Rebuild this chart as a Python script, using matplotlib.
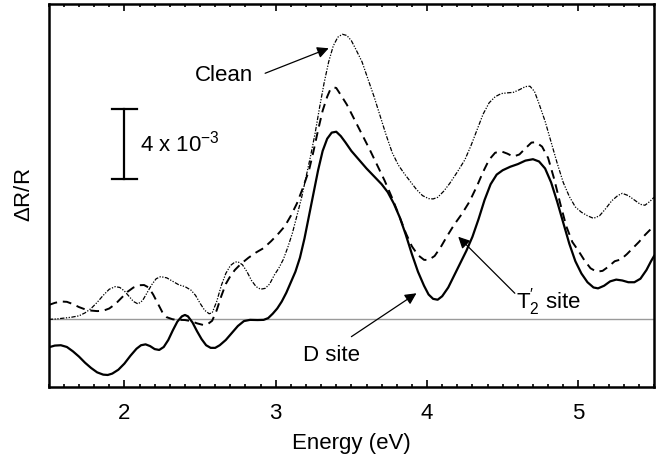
import numpy as np
import matplotlib
matplotlib.use('Agg')
import matplotlib.pyplot as plt
from matplotlib.ticker import MultipleLocator, NullLocator

plt.rcParams['font.family'] = ['Liberation Sans', 'DejaVu Sans']
plt.rcParams['mathtext.fontset'] = 'custom'
plt.rcParams['mathtext.rm'] = 'Liberation Sans'
plt.rcParams['mathtext.it'] = 'Liberation Sans:italic'

# Delta R / R in units of 1e-3, energy in eV
d_site_e = [1.50, 1.54, 1.58, 1.62, 1.66, 1.70, 1.74, 1.78, 1.82, 1.86, 1.89, 1.92,
            1.96, 2.00, 2.04, 2.08, 2.11, 2.14, 2.17, 2.20, 2.23, 2.26, 2.29, 2.32,
            2.35, 2.38, 2.40, 2.42, 2.45, 2.48, 2.51, 2.54, 2.57, 2.60, 2.63, 2.67,
            2.71, 2.75, 2.79, 2.83, 2.88, 2.92, 2.95, 2.98, 3.01, 3.04, 3.07, 3.10,
            3.13, 3.16, 3.19, 3.22, 3.25, 3.28, 3.31, 3.34, 3.37, 3.40, 3.43, 3.46,
            3.50, 3.55, 3.60, 3.65, 3.70, 3.74, 3.78, 3.82, 3.86, 3.90, 3.94, 3.98,
            4.01, 4.04, 4.07, 4.10, 4.14, 4.18, 4.22, 4.26, 4.30, 4.34, 4.38, 4.42,
            4.46, 4.50, 4.55, 4.60, 4.65, 4.70, 4.74, 4.78, 4.82, 4.86, 4.90, 4.94,
            4.98, 5.02, 5.06, 5.10, 5.13, 5.17, 5.21, 5.25, 5.29, 5.33, 5.37, 5.41,
            5.45, 5.48, 5.50]
d_site_r = [-1.62, -1.52, -1.50, -1.60, -1.85, -2.15, -2.50, -2.80, -3.05, -3.18, -3.20, -3.12,
            -2.90, -2.55, -2.10, -1.70, -1.50, -1.45, -1.55, -1.72, -1.77, -1.60, -1.20, -0.65,
            -0.15, 0.15, 0.23, 0.15, -0.20, -0.70, -1.15, -1.50, -1.65, -1.65, -1.50, -1.20,
            -0.80, -0.40, -0.12, -0.05, -0.06, -0.05, 0.05, 0.30, 0.60, 1.00, 1.50, 2.10,
            2.70, 3.50, 4.60, 5.90, 7.20, 8.50, 9.60, 10.30, 10.65, 10.70, 10.45, 10.10,
            9.60, 9.10, 8.60, 8.15, 7.70, 7.25, 6.60, 5.80, 4.80, 3.70, 2.70, 1.90,
            1.40, 1.15, 1.10, 1.30, 1.80, 2.50, 3.20, 3.90, 4.70, 5.70, 6.80, 7.70,
            8.25, 8.50, 8.70, 8.85, 9.05, 9.13, 9.00, 8.60, 7.80, 6.70, 5.50, 4.30,
            3.30, 2.60, 2.10, 1.80, 1.75, 1.90, 2.15, 2.25, 2.20, 2.10, 2.10, 2.30,
            2.80, 3.30, 3.60]

t2_site_e = [1.50, 1.54, 1.58, 1.62, 1.66, 1.70, 1.74, 1.78, 1.82, 1.86, 1.90, 1.94,
             1.98, 2.02, 2.06, 2.10, 2.13, 2.16, 2.19, 2.22, 2.25, 2.28, 2.32, 2.36,
             2.40, 2.44, 2.48, 2.52, 2.55, 2.58, 2.61, 2.64, 2.67, 2.70, 2.73, 2.77,
             2.82, 2.87, 2.92, 2.97, 3.02, 3.06, 3.10, 3.14, 3.18, 3.22, 3.25, 3.28,
             3.31, 3.34, 3.36, 3.38, 3.40, 3.43, 3.47, 3.52, 3.57, 3.62, 3.67, 3.72,
             3.77, 3.82, 3.86, 3.90, 3.94, 3.98, 4.01, 4.05, 4.09, 4.13, 4.18, 4.23,
             4.28, 4.33, 4.37, 4.41, 4.45, 4.49, 4.53, 4.57, 4.61, 4.65, 4.69, 4.72,
             4.76, 4.80, 4.84, 4.88, 4.92, 4.96, 5.00, 5.04, 5.08, 5.12, 5.16, 5.20,
             5.24, 5.28, 5.32, 5.36, 5.40, 5.44, 5.48, 5.50]
t2_site_r = [0.80, 0.92, 1.00, 0.98, 0.85, 0.68, 0.55, 0.48, 0.45, 0.47, 0.60, 0.85,
             1.20, 1.55, 1.80, 1.93, 1.94, 1.80, 1.40, 0.90, 0.40, 0.10, -0.02, -0.05,
             -0.06, -0.12, -0.25, -0.34, -0.30, -0.10, 0.50, 1.30, 2.00, 2.45, 2.80, 3.15,
             3.50, 3.80, 4.05, 4.45, 4.90, 5.30, 5.90, 6.60, 7.50, 8.50, 9.60, 10.80,
             11.90, 12.70, 13.10, 13.24, 13.20, 12.80, 12.25, 11.40, 10.55, 9.70, 8.80, 7.90,
             6.90, 5.80, 4.90, 4.15, 3.65, 3.38, 3.37, 3.60, 4.10, 4.70, 5.40, 6.00,
             6.70, 7.60, 8.40, 9.10, 9.50, 9.58, 9.45, 9.28, 9.40, 9.75, 10.08, 10.10,
             9.85, 9.20, 8.00, 6.60, 5.30, 4.40, 3.90, 3.35, 2.90, 2.70, 2.75, 3.00,
             3.30, 3.40, 3.70, 4.05, 4.40, 4.80, 5.15, 5.30]

clean_e = [1.50, 1.55, 1.60, 1.65, 1.70, 1.74, 1.78, 1.82, 1.86, 1.90, 1.94, 1.97,
           2.00, 2.03, 2.06, 2.09, 2.12, 2.15, 2.18, 2.21, 2.24, 2.28, 2.32, 2.36,
           2.40, 2.44, 2.47, 2.50, 2.53, 2.56, 2.58, 2.61, 2.64, 2.67, 2.70, 2.73,
           2.75, 2.78, 2.81, 2.84, 2.87, 2.90, 2.93, 2.96, 2.99, 3.02, 3.05, 3.08,
           3.11, 3.14, 3.17, 3.20, 3.23, 3.26, 3.29, 3.32, 3.35, 3.38, 3.41, 3.44,
           3.47, 3.50, 3.53, 3.57, 3.61, 3.65, 3.69, 3.73, 3.77, 3.81, 3.85, 3.89,
           3.93, 3.97, 4.01, 4.04, 4.07, 4.11, 4.15, 4.20, 4.25, 4.29, 4.33, 4.37,
           4.41, 4.45, 4.49, 4.53, 4.57, 4.61, 4.65, 4.68, 4.71, 4.74, 4.78, 4.82,
           4.86, 4.90, 4.94, 4.98, 5.02, 5.06, 5.10, 5.14, 5.18, 5.22, 5.26, 5.29,
           5.33, 5.37, 5.41, 5.44, 5.47, 5.50]
clean_r = [-0.02, 0.00, 0.05, 0.10, 0.18, 0.35, 0.60, 0.95, 1.35, 1.70, 1.85, 1.80,
           1.60, 1.30, 1.00, 0.86, 1.05, 1.50, 1.95, 2.30, 2.42, 2.35, 2.15, 1.95,
           1.85, 1.65, 1.35, 0.90, 0.50, 0.30, 0.35, 1.00, 1.90, 2.60, 3.05, 3.25,
           3.27, 3.10, 2.70, 2.20, 1.85, 1.70, 1.75, 2.00, 2.50, 2.90, 3.40, 4.10,
           4.90, 5.90, 6.90, 8.10, 9.30, 10.60, 12.10, 13.50, 14.70, 15.60, 16.10, 16.27,
           16.20, 15.90, 15.40, 14.70, 13.70, 12.70, 11.60, 10.50, 9.50, 8.80, 8.30, 7.85,
           7.40, 7.05, 6.88, 6.86, 6.95, 7.30, 7.75, 8.40, 9.10, 9.90, 10.80, 11.70,
           12.35, 12.70, 12.88, 12.92, 12.95, 13.10, 13.28, 13.30, 13.00, 12.30, 11.30, 10.10,
           8.90, 7.80, 7.00, 6.40, 6.10, 5.90, 5.75, 5.90, 6.30, 6.75, 7.05, 7.18,
           7.05, 6.80, 6.55, 6.50, 6.70, 6.95]

fig = plt.figure(figsize=(6.63, 4.68), dpi=100)
ax = fig.add_axes([0.0735, 0.1737, 0.9130, 0.8178])

ax.axhline(0, color='#9a9a9a', lw=1.0, zorder=1)
ax.plot(clean_e, clean_r, color='black', lw=0.9, dashes=(3.5, 1.2, 1, 1.2, 1, 1.2))
ax.plot(t2_site_e, t2_site_r, color='black', lw=1.4, dashes=(4.5, 3))
ax.plot(d_site_e, d_site_r, color='black', lw=1.6)

# scale bar
ax.plot([2.0, 2.0], [8.0, 12.0], color='black', lw=1.6)
ax.plot([1.92, 2.08], [8.0, 8.0], color='black', lw=1.6)
ax.plot([1.92, 2.08], [12.0, 12.0], color='black', lw=1.6)
ax.text(2.105, 10.0, r'4 x 10$^{-3}$', fontsize=16, va='center', ha='left')

# labels, then arrows from tail to tip
arrow = dict(arrowstyle='-|>', color='black', lw=0.9, mutation_scale=17, shrinkA=0, shrinkB=0)
ax.text(2.66, 13.94, 'Clean', fontsize=16, ha='center', va='center')
ax.annotate('', xy=(3.35, 15.47), xytext=(2.93, 14.04), arrowprops=arrow)
ax.text(3.37, -2.06, 'D site', fontsize=16, ha='center', va='center')
ax.annotate('', xy=(3.93, 1.47), xytext=(3.50, -1.01), arrowprops=arrow)
ax.text(4.80, 0.97, r'T$_2^{\prime}$ site', fontsize=16, ha='center', va='center')
ax.annotate('', xy=(4.206, 4.70), xytext=(4.58, 1.47), arrowprops=arrow)

ax.set_xlim(1.5, 5.5)
ax.set_ylim(-3.87, 18.0)
ax.xaxis.set_major_locator(MultipleLocator(1))
ax.xaxis.set_minor_locator(MultipleLocator(0.1))
ax.yaxis.set_major_locator(NullLocator())
ax.tick_params(axis='x', which='both', direction='in', top=True, bottom=True, width=1.2)
ax.tick_params(axis='x', which='major', length=5, labelsize=16, pad=12)
ax.tick_params(axis='x', which='minor', length=2.5)
for s in ax.spines.values():
    s.set_linewidth(1.8)

ax.set_xlabel('Energy (eV)', fontsize=16, labelpad=6)
ax.set_ylabel(r'$\Delta$R/R', fontsize=16, labelpad=10)

fig.savefig('out.png', dpi=100)
